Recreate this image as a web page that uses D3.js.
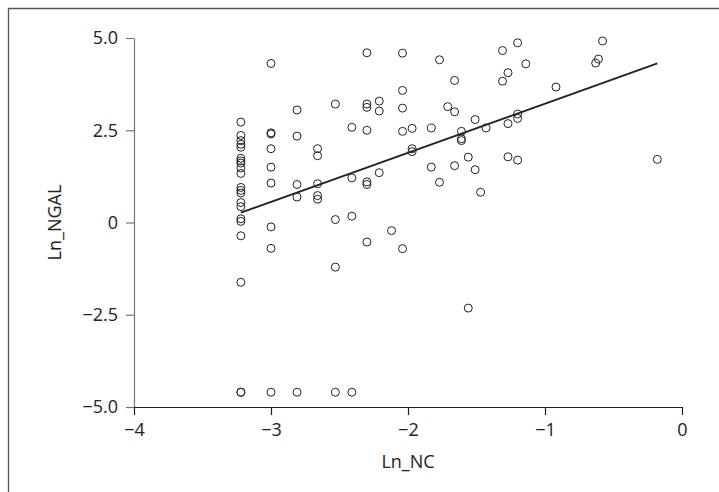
<!DOCTYPE html>
<html>
<head>
<meta charset="utf-8">
<script src="https://cdn.jsdelivr.net/npm/d3@7"></script>
<style>
  body { margin: 0; background: #fff; }
  text { font-family: "Open Sans", sans-serif; fill: #222; }
</style>
</head>
<body>
<svg id="chart" width="719" height="492"></svg>
<script>
// Ln_NC 的取值（每一列）
const ncColumns = [-3.22, -3.0, -2.81, -2.66, -2.53, -2.41, -2.30, -2.21, -2.12, -2.04,
  -1.97, -1.83, -1.77, -1.71, -1.66, -1.61, -1.56, -1.51, -1.47, -1.43,
  -1.31, -1.27, -1.20, -1.14, -0.92, -0.63, -0.61, -0.58, -0.18];

// 每一列对应的 Ln_NGAL 值
const ngalColumns = [
  [2.72, 2.36, 2.22, 2.12, 2.04, 1.74, 1.67, 1.61, 1.48, 1.33, 0.95, 0.87, 0.80, 0.54, 0.43, 0.10, 0.03, -0.36, -1.62, -4.6, -4.6],
  [4.31, 2.43, 2.40, 2.0, 1.5, 1.07, -0.12, -0.70, -4.6],
  [3.05, 2.34, 1.03, 0.69, -4.6],
  [2.0, 1.81, 1.05, 0.73, 0.63],
  [3.21, 0.08, -1.21, -4.6],
  [2.58, 1.21, 0.17, -4.6],
  [4.60, 3.21, 3.12, 2.50, 1.10, 1.03, -0.53],
  [3.29, 3.02, 1.35],
  [-0.22],
  [4.59, 3.58, 3.10, 2.47, -0.71],
  [2.55, 2.0, 1.92],
  [2.56, 1.50],
  [4.41, 1.09],
  [3.14],
  [3.85, 3.0, 1.54],
  [2.47, 2.27, 2.22],
  [1.77, -2.32],
  [2.79, 1.43],
  [0.82],
  [2.56],
  [4.66, 3.83],
  [4.06, 2.68, 1.78],
  [4.87, 2.94, 2.82, 1.69],
  [4.30],
  [3.67],
  [4.32],
  [4.43],
  [4.92],
  [1.71]
];

// 回归线系数
const fitIntercept = 4.55;
const fitSlope = 1.33;

// 刻度
const xTicks = [-4, -3, -2, -1, 0];
const yTicks = [5, 2.5, 0, -2.5, -5];

const points = [];
ncColumns.forEach((nc, i) => {
  ngalColumns[i].forEach(v => points.push({ nc: nc, ngal: v }));
});

const svg = d3.select("#chart");

// 外框（只有上边和左边）
svg.append("path")
  .attr("d", "M8.5,492V8.5H719")
  .attr("fill", "none")
  .attr("stroke", "#555")
  .attr("stroke-width", 1.3);

const margin = { top: 38, left: 134 },
  width = 548,
  height = 369;

const g = svg.append("g")
  .attr("transform", `translate(${margin.left},${margin.top})`);

const x = d3.scaleLinear().domain([-4, 0]).range([0, width]);
const y = d3.scaleLinear().domain([-5, 5]).range([height, 0]);

// Y轴
const yAxis = g.append("g")
  .call(d3.axisLeft(y).tickValues(yTicks).tickSize(8).tickSizeOuter(0).tickPadding(8)
    .tickFormat(d => d === 0 ? "0" : d3.format(".1f")(d)));
yAxis.select(".domain").attr("stroke", "#777").attr("stroke-width", 1.2);
yAxis.selectAll(".tick line").attr("stroke", "#777").attr("stroke-width", 1.2);

// X轴
const xAxis = g.append("g")
  .attr("transform", `translate(0,${height})`)
  .call(d3.axisBottom(x).tickValues(xTicks).tickSize(8).tickSizeOuter(0).tickPadding(8)
    .tickFormat(d3.format("d")));
xAxis.select(".domain").attr("stroke", "#222").attr("stroke-width", 1.2);
xAxis.selectAll(".tick line").attr("stroke", "#222").attr("stroke-width", 1.2);

svg.selectAll(".tick text")
  .style("font-size", "18px")
  .attr("fill", "#222");

// 轴标题
g.append("text")
  .attr("x", width / 2)
  .attr("y", height + 61)
  .attr("text-anchor", "middle")
  .style("font-size", "18px")
  .text("Ln_NC");

g.append("text")
  .attr("transform", `translate(-73,${height / 2}) rotate(-90)`)
  .attr("text-anchor", "middle")
  .style("font-size", "18px")
  .text("Ln_NGAL");

// 回归线
const xMin = d3.min(ncColumns), xMax = d3.max(ncColumns);
g.append("line")
  .attr("x1", x(xMin))
  .attr("y1", y(fitIntercept + fitSlope * xMin))
  .attr("x2", x(xMax))
  .attr("y2", y(fitIntercept + fitSlope * xMax))
  .attr("stroke", "#222")
  .attr("stroke-width", 1.8);

// 散点
g.selectAll(".dot")
  .data(points)
  .enter().append("circle")
  .attr("class", "dot")
  .attr("cx", d => x(d.nc))
  .attr("cy", d => y(d.ngal))
  .attr("r", 4)
  .attr("fill", "none")
  .attr("stroke", "#222")
  .attr("stroke-width", 1);
</script>
</body>
</html>
